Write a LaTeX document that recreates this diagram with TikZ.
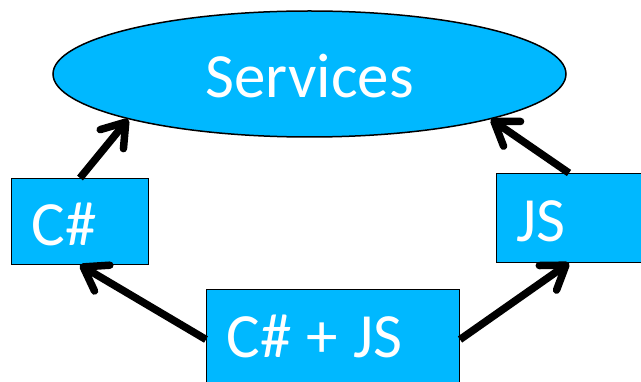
\documentclass[tikz,border=0pt]{standalone}
\usepackage{fontspec}
\setmainfont{Carlito}
\usetikzlibrary{shapes.geometric, arrows.meta}
\definecolor{boxblue}{RGB}{0,184,255}
\newcommand{\bigfont}{\fontsize{63}{70}\selectfont}

\begin{document}
\begin{tikzpicture}[x=1pt, y=-1pt]
\tikzset{BoxStyle/.style = {anchor= north west, draw, fill= boxblue, text= white, align= left,
        inner xsep= 20pt, inner ysep= 0pt, line width= 1pt,
        font= \bigfont, text height= 50pt, text depth= 2pt,
        execute at begin node= {\spaceskip 15.5pt\relax}},
    EllipseStyle/.style = {ellipse, draw, fill= boxblue, text= white, inner sep= 0pt, line width= 1.5pt,
        font= \bigfont, text height= 50pt, text depth= 2pt},
    ArrowStyle/.style = {-{Straight Barb[length= 22pt, width= 30pt, round]}, line width= 7.5pt}
}

    % Frame of the picture
    \useasboundingbox (0,0) rectangle (641,382);
    \clip (0,0) rectangle (641,382);

    % Draw the services and the clients
    \node[EllipseStyle, minimum width= 513pt, minimum height= 126pt] (services) at (309.5,74) {Services};

    \node[BoxStyle, text width= 97pt, minimum height= 86pt] (csharp) at (11,178) {C\#};
    \node[BoxStyle, text width= 105pt, minimum height= 89pt] (js) at (496,173) {JS};
    \node[BoxStyle, text width= 213pt, minimum height= 100pt, text height= 38pt] (both) at (206,289) {C\# + JS};

    % Draw arrows
    \draw[ArrowStyle] (csharp.north) -- (services.194);
    \draw[ArrowStyle] (js.north) -- (services.346);
    \draw[ArrowStyle] (both.west) -- (csharp.south);
    \draw[ArrowStyle] (both.east) -- (js.south);
\end{tikzpicture}
\end{document}
